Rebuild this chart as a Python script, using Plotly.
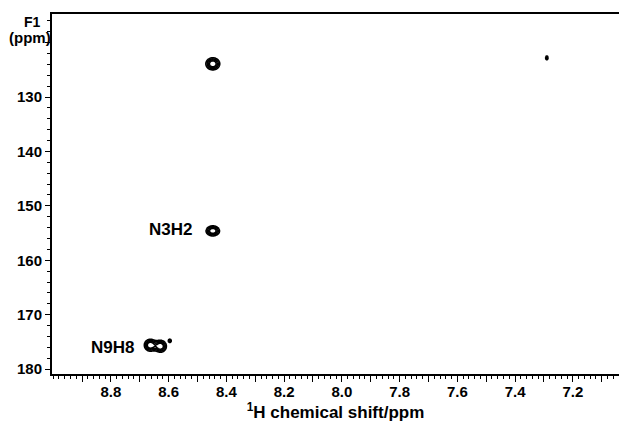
import numpy as np
import plotly.graph_objects as go

# Peak table
peak_h = [8.447, 8.447, 8.664, 8.628, 8.596, 7.290]      # 1H shift, ppm
peak_n = [123.9, 154.6, 175.6, 175.8, 174.8, 122.8]      # 15N shift, ppm
peak_sh = [0.0155, 0.0150, 0.0130, 0.0130, 0.0050, 0.0040]
peak_sn = [0.72, 0.60, 0.70, 0.70, 0.30, 0.35]
peak_amp = [1.0, 1.0, 1.0, 1.0, 0.5, 0.5]
peak_group = [0, 1, 2, 2, 3, 4]

label_text = ["N3H2", "N9H8"]
label_h = [8.595, 8.796]
label_n = [154.3, 175.95]

x_tickvals = [round(7.1 + 0.1 * i, 1) for i in range(19)]
x_ticktext = [("%.1f" % v) if round(v * 10) % 2 == 0 else "" for v in x_tickvals]
y_tickvals = [120, 130, 140, 150, 160, 170, 180]
y_ticktext = ["", "130", "140", "150", "160", "170", "180"]

FONT = "Liberation Sans, Arial, sans-serif"

fig = go.Figure()
for g in sorted(set(peak_group)):
    idx = [i for i, gg in enumerate(peak_group) if gg == g]
    x0 = min(peak_h[i] - 5 * peak_sh[i] for i in idx)
    x1 = max(peak_h[i] + 5 * peak_sh[i] for i in idx)
    y0 = min(peak_n[i] - 5 * peak_sn[i] for i in idx)
    y1 = max(peak_n[i] + 5 * peak_sn[i] for i in idx)
    gx = np.linspace(x0, x1, 90)
    gy = np.linspace(y0, y1, 90)
    X, Y = np.meshgrid(gx, gy)
    Z = np.zeros_like(X)
    for i in idx:
        Z += peak_amp[i] * np.exp(-0.5 * (((X - peak_h[i]) / peak_sh[i]) ** 2
                                          + ((Y - peak_n[i]) / peak_sn[i]) ** 2))
    fig.add_trace(go.Contour(
        x=gx, y=gy, z=Z,
        contours=dict(start=0.3, end=0.75, size=0.15, coloring="lines"),
        colorscale=[[0, "black"], [1, "black"]],
        line=dict(width=1.6, color="black"),
        showscale=False, hoverinfo="skip",
    ))

for t, xh, yn in zip(label_text, label_h, label_n):
    fig.add_annotation(x=xh, y=yn, text=t, showarrow=False,
                       font=dict(family=FONT, size=17, color="black", weight="bold"))

fig.add_annotation(xref="paper", yref="paper", x=-0.034, y=1.0 - (22 - 14) / 360,
                   text="F1", showarrow=False, xanchor="center", yanchor="middle",
                   font=dict(family=FONT, size=14, color="black", weight="bold"))
fig.add_annotation(xref="paper", yref="paper", x=0.0015, y=1.0 - (38 - 14) / 360,
                   text="(ppm)", showarrow=False, xanchor="right", yanchor="middle",
                   font=dict(family=FONT, size=15, color="black", weight="bold"))

fig.update_layout(
    width=619, height=428,
    margin=dict(l=52, r=0, t=14, b=54),
    paper_bgcolor="white", plot_bgcolor="white",
    showlegend=False,
    font=dict(family=FONT, size=15, color="black", weight="bold"),
)
fig.update_xaxes(
    range=[9.004, 7.04],
    showgrid=False, zeroline=False,
    showline=True, linecolor="black", linewidth=2, mirror=True,
    tickmode="array", tickvals=x_tickvals, ticktext=x_ticktext,
    ticks="outside", ticklen=6, tickwidth=1.3, tickcolor="black",
    ticklabelstandoff=-3,
    minor=dict(dtick=0.02, tick0=7.0, ticks="outside", ticklen=3, tickwidth=1, tickcolor="black"),
    tickfont=dict(family=FONT, size=15, color="black", weight="bold"),
    title=dict(text="<sup>1</sup>H chemical shift/ppm", standoff=6,
               font=dict(family=FONT, size=17, color="black", weight="bold")),
)
fig.update_yaxes(
    range=[180.9, 114.74],
    showgrid=False, zeroline=False,
    showline=True, linecolor="black", linewidth=2, mirror=False,
    tickmode="array", tickvals=y_tickvals, ticktext=y_ticktext,
    ticks="outside", ticklen=5, tickwidth=1.3, tickcolor="black",
    minor=dict(dtick=2, tick0=0, ticks="outside", ticklen=3, tickwidth=1, tickcolor="black"),
    tickfont=dict(family=FONT, size=15, color="black", weight="bold"),
)

fig.write_html("out.html")
